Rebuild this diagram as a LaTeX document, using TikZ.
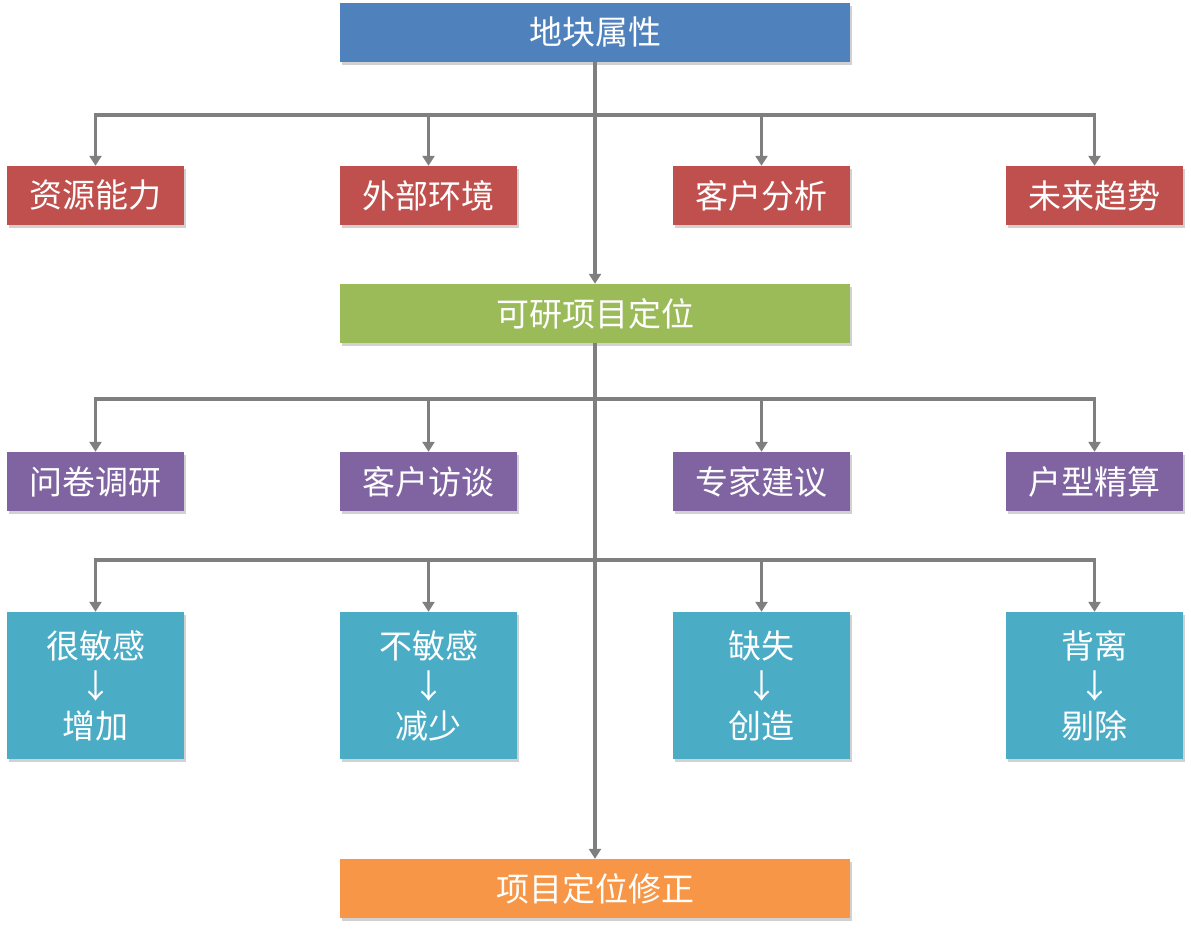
\documentclass[tikz,border=0pt]{standalone}
\usepackage{fontspec}
\setmainfont{Noto Sans CJK SC}
\usetikzlibrary{shadows,arrows.meta}
\definecolor{cblue}{HTML}{4F81BD}
\definecolor{cred}{HTML}{C0504D}
\definecolor{cgreen}{HTML}{9BBB59}
\definecolor{cpurple}{HTML}{8064A2}
\definecolor{cteal}{HTML}{4BACC6}
\definecolor{corange}{HTML}{F79646}
\definecolor{cline}{HTML}{7F7F7F}
\tikzset{
  box/.style={rectangle, inner sep=0pt, text=white, align=center,
    font=\fontsize{33}{40}\selectfont,
    drop shadow={shadow xshift=2pt, shadow yshift=-3pt, opacity=0.3, fill=black!60}},
  widebox/.style={box, minimum width=510pt, minimum height=59pt},
  smallbox/.style={box, minimum width=177pt, minimum height=59pt},
  tallbox/.style={box, minimum width=177pt, minimum height=147pt, fill=cteal},
  conn/.style={draw=cline, line width=3.5pt, -{Triangle[width=12pt,length=10pt]}},
  plain/.style={draw=cline, line width=3.5pt}
}
\begin{document}
\begin{tikzpicture}[x=1pt,y=1pt]
\useasboundingbox (0,0) rectangle (1191,940);
% top
\node[widebox, fill=cblue] (top) at (595,907.5) {地块属性};
% red row
\node[smallbox, fill=cred] (r1) at (95.5,744.5) {资源能力};
\node[smallbox, fill=cred] (r2) at (428.5,744.5) {外部环境};
\node[smallbox, fill=cred] (r3) at (761.5,744.5) {客户分析};
\node[smallbox, fill=cred] (r4) at (1094.5,744.5) {未来趋势};
% green
\node[widebox, fill=cgreen] (mid) at (595,626.5) {可研项目定位};
% purple row
\node[smallbox, fill=cpurple] (p1) at (95.5,458.5) {问卷调研};
\node[smallbox, fill=cpurple] (p2) at (428.5,458.5) {客户访谈};
\node[smallbox, fill=cpurple] (p3) at (761.5,458.5) {专家建议};
\node[smallbox, fill=cpurple] (p4) at (1094.5,458.5) {户型精算};
% teal row
\node[tallbox] (t1) at (95.5,254.5) {很敏感\\↓\\增加};
\node[tallbox] (t2) at (428.5,254.5) {不敏感\\↓\\减少};
\node[tallbox] (t3) at (761.5,254.5) {缺失\\↓\\创造};
\node[tallbox] (t4) at (1094.5,254.5) {背离\\↓\\剔除};
% orange
\node[widebox, fill=corange] (bot) at (595,51.5) {项目定位修正};
% bus coordinates
\coordinate (b1) at (595,825);
\coordinate (b2) at (595,541);
\coordinate (b3) at (595,380);
% connectors
\draw[conn] (top.south) -- (mid.north);
\draw[plain] (95.5,825) -- (1094.5,825);
\draw[conn] (b1) -| (r1.north);
\draw[conn] (b1) -| (r2.north);
\draw[conn] (b1) -| (r3.north);
\draw[conn] (b1) -| (r4.north);
\draw[conn] (mid.south) -- (bot.north);
\draw[plain] (95.5,541) -- (1094.5,541);
\draw[conn] (b2) -| (p1.north);
\draw[conn] (b2) -| (p2.north);
\draw[conn] (b2) -| (p3.north);
\draw[conn] (b2) -| (p4.north);
\draw[plain] (95.5,380) -- (1094.5,380);
\draw[conn] (b3) -| (t1.north);
\draw[conn] (b3) -| (t2.north);
\draw[conn] (b3) -| (t3.north);
\draw[conn] (b3) -| (t4.north);
\end{tikzpicture}
\end{document}
